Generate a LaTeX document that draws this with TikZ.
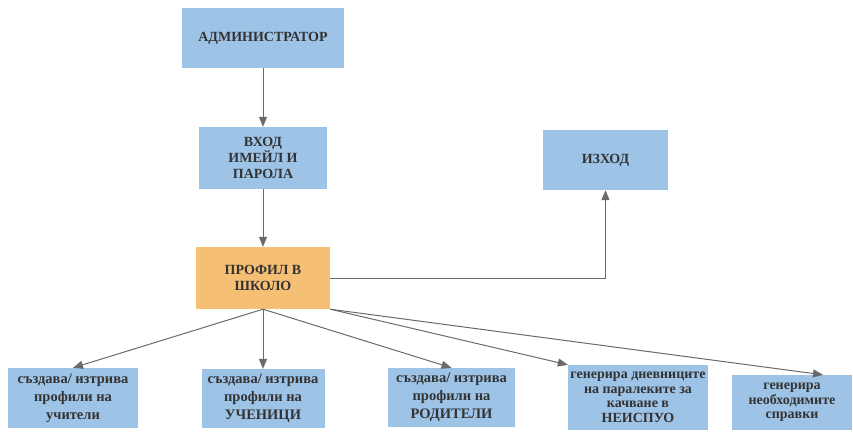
\documentclass[tikz,border=0pt]{standalone}
\usepackage{fontspec}
\setmainfont{Liberation Serif}
\usetikzlibrary{arrows.meta}
\definecolor{boxblue}{HTML}{9DC3E6}
\definecolor{boxorange}{HTML}{F5BF74}
\definecolor{inkgray}{HTML}{333333}
\definecolor{linegray}{HTML}{6A6A6A}
\tikzset{
  box/.style={fill=boxblue, draw=none, align=center, inner sep=0pt, text=inkgray},
  capsfont/.style={font=\bfseries\fontsize{14}{16}\selectfont},
  smallfont/.style={font=\bfseries\fontsize{14.5}{18}\selectfont},
  tightfont/.style={font=\bfseries\fontsize{14}{14.5}\selectfont},
  conn/.style={draw=linegray, line width=1pt, -{Triangle[length=10pt,width=8pt]}},
}
\begin{document}
\begin{tikzpicture}[x=1pt,y=-1pt]
\useasboundingbox (0,0) rectangle (853,432);

% top column
\node[box, capsfont, minimum width=162pt, minimum height=60pt] (admin) at (263,38) {АДМИНИСТРАТОР};
\node[box, capsfont, minimum width=128pt, minimum height=62pt] (login) at (263,158) {ВХОД\\ИМЕЙЛ И\\ПАРОЛА};
\node[box, capsfont, fill=boxorange, minimum width=134pt, minimum height=62pt] (profile) at (263,278) {ПРОФИЛ В\\ШКОЛО};
\node[box, capsfont, minimum width=125pt, minimum height=60pt] (exit) at (605.5,160) {ИЗХОД};

% bottom row of actions
\node[box, smallfont, minimum width=130pt, minimum height=60pt] (b1) at (73,398) {създава/ изтрива\\профили на\\учители};
\node[box, smallfont, minimum width=123pt, minimum height=59pt] (b2) at (263,398.5) {създава/ изтрива\\профили на\\УЧЕНИЦИ};
\node[box, smallfont, minimum width=127pt, minimum height=59pt] (b3) at (451.5,397.5) {създава/ изтрива\\профили на\\РОДИТЕЛИ};
\node[box, tightfont, minimum width=140pt, minimum height=65pt] (b4) at (638,397.5) {генерира дневниците\\на паралеките за\\качване в\\НЕИСПУО};
\node[box, tightfont, minimum width=120pt, minimum height=55pt] (b5) at (792,402.5) {генерира\\необходимите\\справки};

% connectors
\draw[conn] (admin) -- (login);
\draw[conn] (login) -- (profile);
\draw[conn] (profile.east) -| (exit.south);
\draw[conn] (profile.south) -- (b1.north);
\draw[conn] (profile.south) -- (b2.north);
\draw[conn] (profile.south) -- (b3.north);
\draw[conn] (profile.south east) -- (b4.north west);
\draw[conn] (profile.south east) -- ([xshift=31pt]b5.north);
\end{tikzpicture}
\end{document}
